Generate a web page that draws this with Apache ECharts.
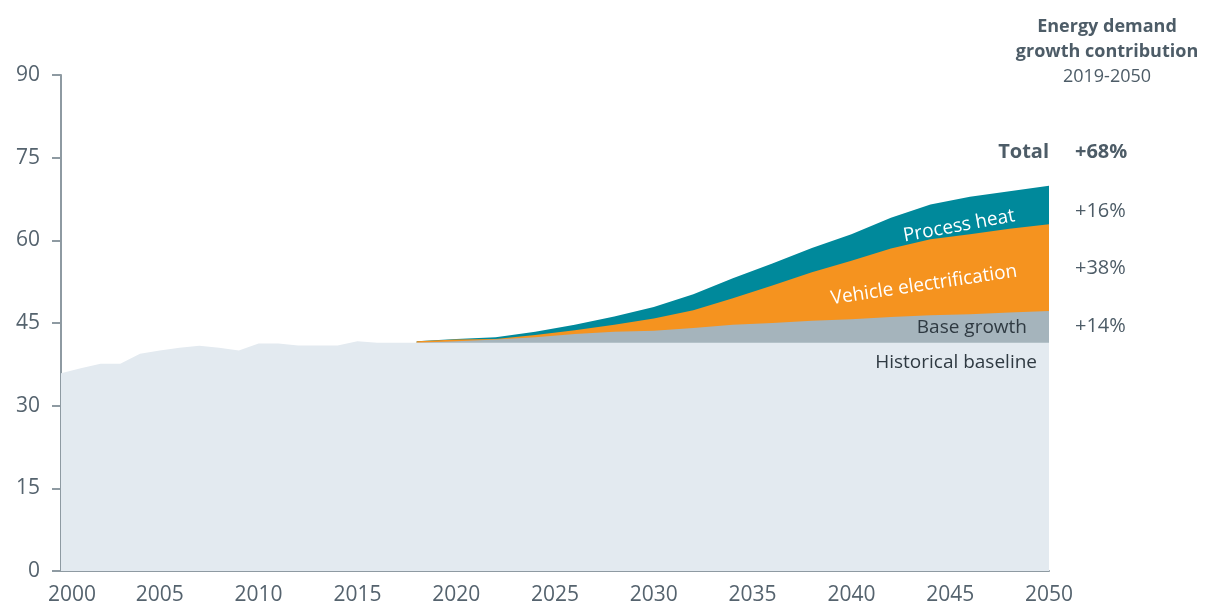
<!DOCTYPE html>
<html><head><meta charset="utf-8">
<script src="https://cdn.jsdelivr.net/npm/echarts@6/dist/echarts.min.js"></script>
<style>html,body{margin:0;padding:0;background:#fff}#c{width:1212px;height:602px}</style>
</head><body><div id="c"></div>
<script>
// ---- data ----
const histYears = [2000,2001,2002,2003,2004,2005,2006,2007,2008,2009,2010,2011,2012,2013,2014,2015,2016,2017,2018,
  2019,2020,2021,2022,2023,2024,2025,2026,2027,2028,2029,2030,2031,2032,2033,2034,2035,2036,2037,2038,2039,2040,
  2041,2042,2043,2044,2045,2046,2047,2048,2049,2050];
const historical = [35.9,36.8,37.6,37.6,39.4,40.0,40.5,40.85,40.5,40.0,41.3,41.3,40.9,40.9,40.9,41.7,41.4,41.4,41.4,
  41.4,41.4,41.4,41.4,41.4,41.4,41.4,41.4,41.4,41.4,41.4,41.4,41.4,41.4,41.4,41.4,41.4,41.4,41.4,41.4,41.4,41.4,
  41.4,41.4,41.4,41.4,41.4,41.4,41.4,41.4,41.4,41.4];
const projYears = [2018,2020,2022,2024,2026,2028,2030,2032,2034,2036,2038,2040,2042,2044,2046,2048,2050];
const baselineLevel = [41.4,41.4,41.4,41.4,41.4,41.4,41.4,41.4,41.4,41.4,41.4,41.4,41.4,41.4,41.4,41.4,41.4];
const baseGrowth = [0,0.3,0.6,1.0,1.6,2.0,2.2,2.7,3.3,3.6,4.0,4.3,4.7,5.0,5.2,5.5,5.8];
const vehicleElectrification = [0.3,0.3,0.1,0.4,0.7,1.3,2.2,3.2,4.8,6.8,8.8,10.6,12.4,13.8,14.5,15.2,15.7];
const processHeat = [0,0.1,0.3,0.6,1.0,1.5,2.1,2.9,3.6,4.0,4.4,4.8,5.6,6.3,6.8,6.8,7.0];
const seriesNames = ['Historical baseline','Base growth','Vehicle electrification','Process heat'];
const contribTitle = ['Energy demand','growth contribution','2019-2050'];
const contribLabels = ['Total','+68%','+16%','+38%','+14%'];

// cumulative tops of the stacked projection layers
const topBase = baselineLevel.map((b, i) => b + baseGrowth[i]);
const topVeh = topBase.map((b, i) => b + vehicleElectrification[i]);
const topHeat = topVeh.map((b, i) => b + processHeat[i]);

const pair = (xs, ys) => xs.map((x, i) => [x, +ys[i].toFixed(3)]);
const FONT = '"Open Sans", "Noto Sans", sans-serif';
const TXT = '#55636e';
const colors = { hist: '#e3eaf0', base: '#a5b4bc', veh: '#f5931f', heat: '#00899b' };

const chart = echarts.init(document.getElementById('c'), null, { renderer: 'canvas' });
const areaSeries = (name, data, color) => ({
  name, type: 'line', data, symbol: 'none', silent: true,
  lineStyle: { width: 0 }, areaStyle: { color, opacity: 1, origin: 'start' }, z: 2
});
const txt = (x, y, text, font, fill, align, rot) => ({
  type: 'text', x, y, rotation: (rot || 0) * Math.PI / 180, z: 10,
  style: { text, font: font + ' ' + FONT, fill, textAlign: align, textVerticalAlign: 'middle', align, verticalAlign: 'middle' }
});
chart.setOption({
  animation: false,
  textStyle: { fontFamily: FONT },
  grid: { left: 61, right: 163, top: 75, bottom: 31, containLabel: false, outerBoundsMode: 'none' },
  xAxis: {
    type: 'value', min: 2000, max: 2050, interval: 5,
    splitLine: { show: false },
    axisLine: { lineStyle: { color: '#8e9aa2', width: 2 } },
    axisTick: { show: false },
    axisLabel: {
      fontSize: 21, color: TXT, margin: 14, fontFamily: FONT,
      formatter: v => v === 2000 ? '{f|2000}' : String(v),
      rich: { f: { fontSize: 21, color: TXT, fontFamily: FONT, padding: [0, 0, 0, 22] } }
    }
  },
  yAxis: {
    type: 'value', min: 0, max: 90, interval: 15,
    splitLine: { show: false },
    axisLine: { show: true, lineStyle: { color: '#8e9aa2', width: 2 } },
    axisTick: { show: true, length: 9, lineStyle: { color: '#8e9aa2', width: 2 } },
    axisLabel: { fontSize: 21, color: TXT, margin: 21, fontFamily: FONT }
  },
  series: [
    areaSeries(seriesNames[3], pair(projYears, topHeat), colors.heat),
    areaSeries(seriesNames[2], pair(projYears, topVeh), colors.veh),
    areaSeries(seriesNames[1], pair(projYears, topBase), colors.base),
    areaSeries(seriesNames[0], pair(histYears, historical), colors.hist)
  ],
  graphic: [
    txt(1107, 27, contribTitle[0], 'bold 18px', '#4d5c67', 'center'),
    txt(1107, 52, contribTitle[1], 'bold 18px', '#4d5c67', 'center'),
    txt(1107, 77, contribTitle[2], '18px', '#4d5c67', 'center'),
    txt(1049, 152, contribLabels[0], 'bold 20px', '#4d5c67', 'right'),
    txt(1075, 152, contribLabels[1], 'bold 20px', '#4d5c67', 'left'),
    txt(1075, 211, contribLabels[2], '20px', '#4d5c67', 'left'),
    txt(1075, 268, contribLabels[3], '20px', '#4d5c67', 'left'),
    txt(1075, 326, contribLabels[4], '20px', '#4d5c67', 'left'),
    txt(959, 226, seriesNames[3], '19px', '#ffffff', 'center', 10.5),
    txt(924, 285, seriesNames[2], '19px', '#ffffff', 'center', 8.5),
    txt(1027, 328, seriesNames[1], '19px', '#2f3a42', 'right'),
    txt(1037, 363, seriesNames[0], '19px', '#2f3a42', 'right')
  ]
});
</script></body></html>
